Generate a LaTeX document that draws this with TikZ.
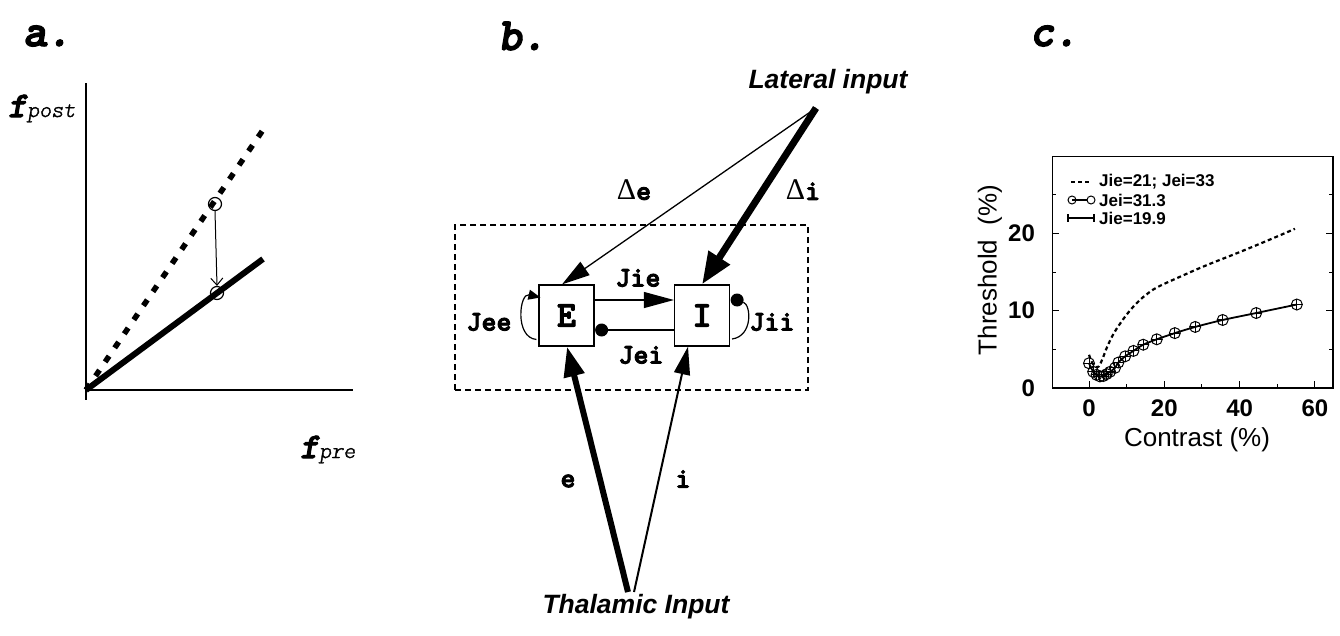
\documentclass[tikz,border=0pt]{standalone}
\usepackage{fontspec}
\setmainfont{Liberation Sans}
\newfontfamily\cour[FakeBold=3]{lmmonolt10-bold.otf}
\newfontfamily\courit[FakeBold=3]{lmmonolt10-boldoblique.otf}
\newfontfamily\courobl[FakeBold=1.5]{lmmonolt10-oblique.otf}
\newfontfamily\grk{Liberation Serif}
\usetikzlibrary{arrows.meta,calc}

\tikzset{
  panel/.style={font=\courit\fontsize{46}{46}\selectfont, inner sep=0},
  cour/.style={font=\cour\fontsize{28.5}{28.5}\selectfont, inner sep=0},
  inlbl/.style={font=\bfseries\itshape\fontsize{26.5}{26.5}\selectfont, inner sep=0},
  cell/.style={draw, line width=1.2, minimum width=55, minimum height=61, inner sep=0,
    font=\cour\fontsize{36}{36}\selectfont},
  frame/.style={draw, line width=1.2, dash pattern=on 6 off 4, minimum width=353, minimum height=165, inner sep=0},
  dotnode/.style={circle, fill, minimum size=13, inner sep=0},
  opencirc/.style={circle, draw, line width=1.2, minimum size=13, inner sep=0},
  omark/.style={circle, draw, line width=1, minimum size=11, inner sep=0,
    path picture={\draw[line width=1] (path picture bounding box.north) -- (path picture bounding box.south)
      (path picture bounding box.west) -- (path picture bounding box.east);}},
  ticklbl/.style={font=\bfseries\fontsize{24}{24}\selectfont, inner sep=0},
  axlbl/.style={font=\fontsize{26}{26}\selectfont, inner sep=0},
  leg/.style={font=\bfseries\fontsize{17}{17}\selectfont, inner sep=0, anchor=west},
}

\begin{document}
\begin{tikzpicture}[x=1pt,y=-1pt]
\useasboundingbox (0,0) rectangle (1340,635);

% ---------------- panel a: rate transfer ----------------
\node[panel] (la) at (47,36) {a.};
\coordinate (O) at (86,390);
\coordinate (ytop) at (86,83);
\coordinate (ybot) at (86,400);
\coordinate (xend) at (353,390);
\coordinate (dend) at (265,127);
\coordinate (send) at (263,259);
\draw[line width=1.2] (ytop) -- (ybot);
\draw[line width=1.2] (O) -- (xend);
\draw[line width=5.5, dash pattern=on 7 off 10] (O) -- (dend);
\draw[line width=6] (O) -- (send);
\node[opencirc] (p1) at (215,204) {};
\node[opencirc] (p2) at (217,293) {};
\draw[line width=1, -{Straight Barb[length=7,width=12]}] (p1.south) -- (p2.north);
\node[anchor=base west, inner sep=0] (fpost) at (8,117)
  {{\courit\fontsize{36}{36}\selectfont f}{\courobl\fontsize{23}{23}\selectfont post}};
\node[anchor=base west, inner sep=0] (fpre) at (300,458)
  {{\courit\fontsize{36}{36}\selectfont f}{\courobl\fontsize{23}{23}\selectfont pre}};

% ---------------- panel b: E--I circuit ----------------
\node[panel] (lb) at (522,36) {b.};
\node[frame] (fr) at (631.5,307.5) {};
\node[cell] (E) at (566.5,315.5) {E};
\node[cell] (I) at (702,315.5) {I};

% Jie: excitatory E -> I
\draw[line width=1.2, -{Triangle[length=30,width=16]}] ([yshift=15.5]E.east) -- ([yshift=15.5]I.west);
\node[cour] (jie) at (638,278) {Jie};
% Jei: inhibitory I -> E
\node[dotnode] (jeidot) at ($(E.east)+(7,14.5)$) {};
\draw[line width=1.2] ([yshift=-14.5]I.west) -- (jeidot);
\node[cour] (jei) at (641,355) {Jei};
% Jee: self excitation
\draw[line width=1.2, -{Triangle[length=12,width=10]}]
  ($(E.west)+(-2,24)$) .. controls ($(E.west)+(-24,22)$) and ($(E.west)+(-19,-23)$) .. ($(E.west)+(2,-18)$);
\node[cour] (jee) at (489,322) {Jee};
% Jii: self inhibition
\node[dotnode] (jiidot) at ($(I.east)+(7,-15.5)$) {};
\draw[line width=1.2]
  ($(I.east)+(2,23.5)$) .. controls ($(I.east)+(23,20.5)$) and ($(I.east)+(21,-10.5)$) .. (jiidot);
\node[cour] (jii) at (772,322) {Jii};

% lateral input
\node[inlbl] (latlbl) at (828,82) {Lateral input};
\coordinate (lat) at (816,108);
\draw[line width=7, -{Triangle[length=32,width=24]}] (lat) -- (I.north);
\draw[line width=1.3, -{Triangle[length=28,width=16]}] (lat) -- ([xshift=-4.5]E.north);
\node[cour] (de) at (634,190) {{\grk\fontsize{30}{30}\selectfont Δ}e};
\node[cour] (di) at (803,190) {{\grk\fontsize{30}{30}\selectfont Δ}i};

% thalamic input
\node[inlbl] (thlbl) at (636,607) {Thalamic Input};
\coordinate (thal) at (631,592);
\draw[line width=6, -{Triangle[length=30,width=20]}] ([xshift=-3]thal) -- ([xshift=0.5]E.south);
\draw[line width=2, -{Triangle[length=28,width=16]}] ([xshift=3]thal) -- ([xshift=-14]I.south);
\node[cour] (le) at (568,481) {e};
\node[cour] (li) at (683,479) {i};

% ---------------- panel c: threshold vs contrast ----------------
\node[panel] (lc) at (1054,36) {c.};
\begin{scope}[shift={(1089,388)}, x=3.765pt, y=7.73pt]
  \coordinate (bl) at (-9.8,0);
  \coordinate (br) at (64.8,0);
  \coordinate (tl) at (-9.8,30);
  \coordinate (tr) at (64.8,30);
  \draw[line width=1.2] (tl) -- (bl) -- (br) -- (tr) -- cycle;
  % x ticks
  \foreach \v in {0,20,40,60} \draw[line width=1] (\v,0) -- (\v,0.9);
  \foreach \v in {10,30,50} \draw[line width=1] (\v,0) -- (\v,0.5);
  % y ticks, both sides
  \foreach \v in {10,20} {
    \draw[line width=1] (-9.8,\v) -- (-7.9,\v);
    \draw[line width=1] (64.8,\v) -- (62.9,\v);
  }
  \foreach \v in {5,15,25} {
    \draw[line width=1] (-9.8,\v) -- (-8.7,\v);
    \draw[line width=1] (64.8,\v) -- (63.7,\v);
  }
  \foreach \v in {0,20,40,60} \node[ticklbl, anchor=north] (xt\v) at ([yshift=-12pt]\v,0) {\v};
  \foreach \v in {0,10,20} \node[ticklbl, anchor=east] (yt\v) at ([xshift=-17pt]-9.8,\v) {\v};

  % dashed curve
  \draw[line width=2.2, dash pattern=on 4 off 3] plot[smooth, tension=0.6] coordinates {
    (0,4.3) (0.8,3.3) (1.7,2.75) (2.6,2.8) (3.6,3.8) (4.8,5.3) (6.5,7.0) (8.5,8.5)
    (10.5,9.8) (12.7,11.0) (15,12.0) (18,13.0) (24.2,14.4) (31.3,15.9) (40.1,17.6)
    (49,19.4) (54.7,20.6)};
  % solid curve with markers
  \draw[line width=1.8] plot[smooth, tension=0.5] coordinates {
    (0,3.2) (1.1,2.1) (2.0,1.7) (2.9,1.5) (3.8,1.55) (4.7,1.8) (5.6,2.1) (6.9,2.6)
    (7.8,3.3) (9.6,4.1) (11.8,4.8) (14.4,5.6) (18,6.3) (22.8,7.1) (28.2,7.9)
    (35.5,8.8) (44.4,9.7) (55.2,10.8)};
  \foreach \p [count=\k] in {(0,3.2),(1.1,2.1),(2.0,1.7),(2.9,1.5),(3.8,1.55),(4.7,1.8),
      (5.6,2.1),(6.9,2.6),(7.8,3.3),(9.6,4.1),(11.8,4.8),(14.4,5.6),(18,6.3),(22.8,7.1),
      (28.2,7.9),(35.5,8.8),(44.4,9.7),(55.2,10.8)}
    \node[omark] (m\k) at \p {};
\end{scope}
\node[axlbl] (xlab) at (1197,440) {Contrast (\%)};
\node[axlbl, rotate=90] (ylab) at (990,270) {Threshold\ \ (\%)};

% legend
\coordinate (g1a) at (1071,182); \coordinate (g1b) at (1090,182);
\draw[line width=2, dash pattern=on 4 off 3] (g1a) -- (g1b);
\node[leg] (g1) at (1099,182) {Jie=21; Jei=33};
\node[circle, draw, line width=1, minimum size=8, inner sep=0] (g2a) at (1072,200) {};
\node[circle, draw, line width=1, minimum size=8, inner sep=0] (g2b) at (1091,200) {};
\draw[line width=1.4] (g2a.center) -- (g2b.west);
\node[leg] (g2) at (1099,200) {Jei=31.3};
\coordinate (g3a) at (1068,218); \coordinate (g3b) at (1094,218);
\draw[line width=1.6] (g3a) -- (g3b);
\draw[line width=1.4] ([yshift=4]g3a) -- ([yshift=-4]g3a) ([yshift=4]g3b) -- ([yshift=-4]g3b);
\node[leg] (g3) at (1099,218) {Jie=19.9};
\end{tikzpicture}
\end{document}
